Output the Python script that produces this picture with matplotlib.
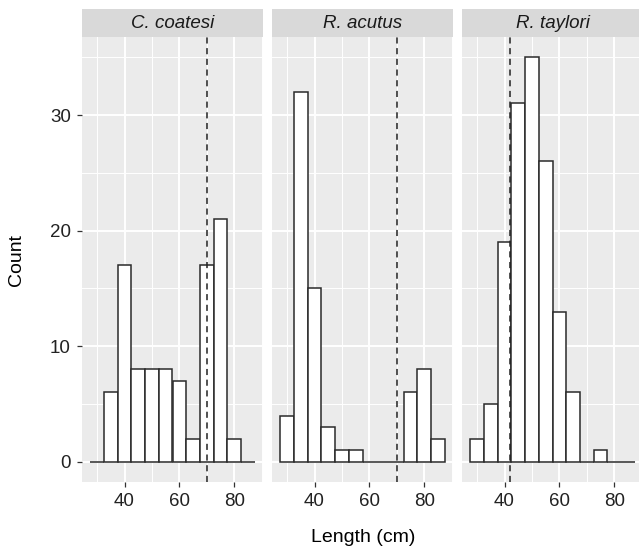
import matplotlib
matplotlib.use("Agg")
import matplotlib.pyplot as plt
import numpy as np

plt.rcParams['font.family'] = ['Liberation Sans', 'DejaVu Sans']

species = ["C. coatesi", "R. acutus", "R. taylori"]
bin_centers = [30, 35, 40, 45, 50, 55, 60, 65, 70, 75, 80, 85]
bin_width = 5
counts_coatesi = [0, 6, 17, 8, 8, 8, 7, 2, 17, 21, 2, 0]
counts_acutus = [4, 32, 15, 3, 1, 1, 0, 0, 0, 6, 8, 2]
counts_taylori = [2, 5, 19, 31, 35, 26, 13, 6, 0, 1, 0, 0]
vline_x = [70, 70, 42]
x_ticks = [40, 60, 80]
y_ticks = [0, 10, 20, 30]

all_counts = [counts_coatesi, counts_acutus, counts_taylori]

W, H = 639, 550
fig = plt.figure(figsize=(W / 100, H / 100), dpi=100)

panel_lefts = [82, 272, 462]
panel_w = 181
panel_top = 37
panel_bottom = 482
strip_top = 9

xmin_d, xmax_d = bin_centers[0] - bin_width / 2, bin_centers[-1] + bin_width / 2
xpad = 0.05 * (xmax_d - xmin_d)
ymax_d = max(max(c) for c in all_counts)
ypad = 0.05 * ymax_d

for i, (sp, counts, vx) in enumerate(zip(species, all_counts, vline_x)):
    l = panel_lefts[i]
    ax = fig.add_axes([l / W, (H - panel_bottom) / H, panel_w / W, (panel_bottom - panel_top) / H])
    ax.set_facecolor('#EBEBEB')
    for s in ax.spines.values():
        s.set_visible(False)
    ax.set_xlim(xmin_d - xpad, xmax_d + xpad)
    ax.set_ylim(-ypad, ymax_d + ypad)
    ax.set_xticks(x_ticks)
    ax.set_xticks([30, 50, 70, 90], minor=True)
    ax.set_yticks(y_ticks)
    ax.set_yticks([5, 15, 25, 35], minor=True)
    ax.grid(True, which='major', color='white', linewidth=1.4)
    ax.grid(True, which='minor', color='white', linewidth=0.7)
    ax.set_axisbelow(True)
    ax.tick_params(which='minor', length=0)
    ax.tick_params(which='major', length=3.6, width=0.9, color='#333333',
                   labelsize=13.5, labelcolor='#222222', pad=4.5)
    if i > 0:
        ax.tick_params(axis='y', left=False, labelleft=False)
    ax.bar(bin_centers, counts, width=bin_width, color='white',
           edgecolor='#2A2A2A', linewidth=1.1, zorder=2)
    ax.axvline(vx, color='#222222', linestyle=(0, (4, 3)), linewidth=1.1, zorder=3)

    sax = fig.add_axes([l / W, (H - panel_top) / H, panel_w / W, (panel_top - strip_top) / H])
    sax.set_facecolor('#D9D9D9')
    for s in sax.spines.values():
        s.set_visible(False)
    sax.set_xticks([])
    sax.set_yticks([])
    sax.text(0.5, 0.48, sp, transform=sax.transAxes, ha='center', va='center',
             fontsize=13.5, style='italic', color='#1A1A1A')

fig.text((82 + 644) / 2 / W, 1 - 537 / H, "Length (cm)", ha='center', va='center', fontsize=14)
fig.text(17 / W, 1 - (panel_top + panel_bottom) / 2 / H, "Count", ha='center', va='center',
         rotation=90, fontsize=14)

fig.savefig("out.png", dpi=100)
